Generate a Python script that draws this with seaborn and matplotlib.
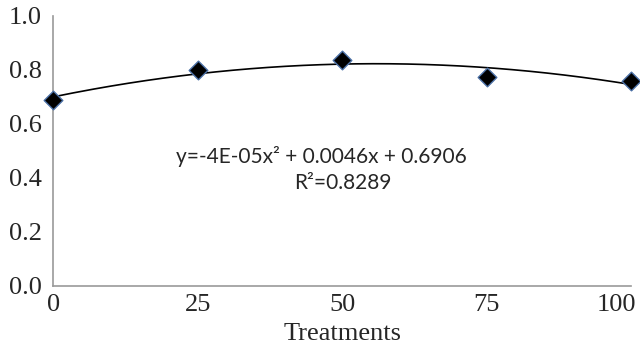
import numpy as np
import pandas as pd
import seaborn as sns
import matplotlib
matplotlib.use("Agg")
import matplotlib.pyplot as plt
from matplotlib.transforms import ScaledTranslation

treatments = [0, 25, 50, 75, 100]
values = [0.69, 0.80, 0.835, 0.775, 0.76]
x_ticks = [0, 25, 50, 75, 100]
y_ticks = [0.0, 0.2, 0.4, 0.6, 0.8, 1.0]
equation = "y=-4E-05x² + 0.0046x + 0.6906"
r2_text = "R²=0.8289"

sns.set_style("white")
plt.rcParams['font.family'] = ['Liberation Serif', 'DejaVu Serif']

df = pd.DataFrame({"Treatments": treatments, "value": values})

fig = plt.figure(figsize=(6.4, 3.44), dpi=100)
ax = fig.add_axes([0.083, 0.169, 0.903, 0.785])

coef = np.polyfit(df["Treatments"], df["value"], 2)
xs = np.linspace(0, 100, 200)
fit = pd.DataFrame({"x": xs, "y": np.polyval(coef, xs)})
sns.lineplot(data=fit, x="x", y="y", ax=ax, color="black", linewidth=1.2)
sns.scatterplot(data=df, x="Treatments", y="value", ax=ax, marker="D", s=90,
                color="black", edgecolor="#4a6fa5", linewidth=1.0, zorder=5, clip_on=False)

ax.set_xlim(0, 100)
ax.set_ylim(0, 1.0)
ax.set_xticks(x_ticks)
ax.set_xticklabels([str(v) for v in x_ticks], fontsize=19)
ax.set_yticks(y_ticks)
ax.set_yticklabels([f"{v:.1f}" for v in y_ticks], fontsize=19)
ax.set_xlabel("Treatments", fontsize=19, labelpad=5)
ax.set_ylabel("")
for s in ["top", "right"]:
    ax.spines[s].set_visible(False)
for s in ["left", "bottom"]:
    ax.spines[s].set_color("#999999")
    ax.spines[s].set_linewidth(1.2)
ax.tick_params(axis="y", length=2, color="#cccccc", pad=6)
ax.tick_params(axis="x", length=0, pad=6)

last = ax.get_xticklabels()[-1]
last.set_horizontalalignment("right")
last.set_transform(last.get_transform() + ScaledTranslation(5 / 100, 0, fig.dpi_scale_trans))

ax.text(46.5, 0.48, equation, ha="center", va="center", fontsize=15,
        family=["Lato", "DejaVu Sans"])
ax.text(50.2, 0.38, r2_text, ha="center", va="center", fontsize=15,
        family=["Lato", "DejaVu Sans"])

fig.savefig("out.png", dpi=100)
